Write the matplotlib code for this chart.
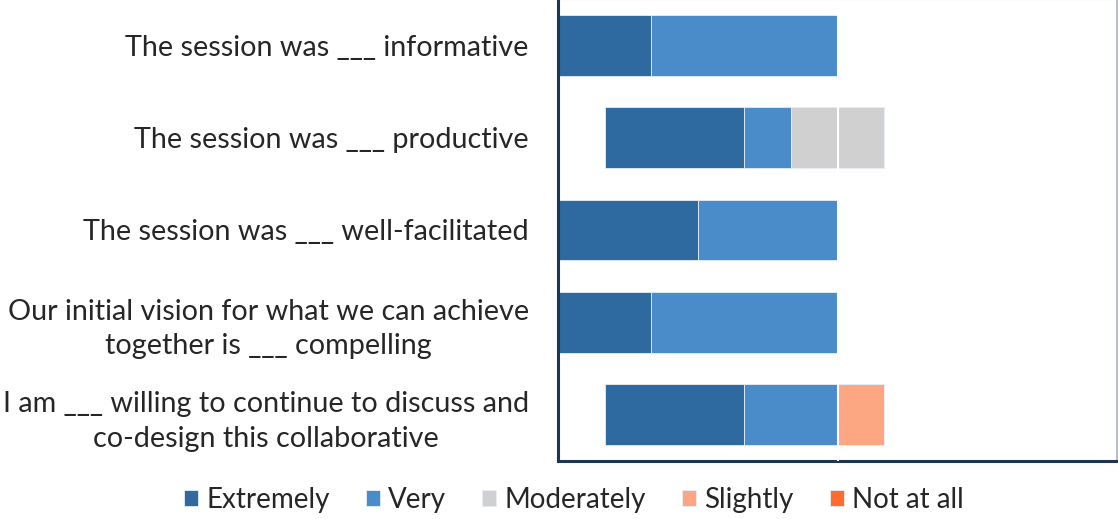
import numpy as np
import matplotlib.pyplot as plt

plt.rcParams['font.family'] = ['Lato', 'DejaVu Sans']

questions = [
    "The session was ___ informative",
    "The session was ___ productive",
    "The session was ___ well-facilitated",
    "Our initial vision for what we can achieve\ntogether is ___ compelling",
    "I am ___ willing to continue to discuss and\nco-design this collaborative",
]
levels = ["Extremely", "Very", "Moderately", "Slightly", "Not at all"]
extremely = [2, 3, 3, 2, 3]
very = [4, 1, 3, 4, 2]
moderately = [0, 2, 0, 0, 0]
slightly = [0, 0, 0, 0, 1]
not_at_all = [0, 0, 0, 0, 0]
colors = ["#2E6A9F", "#4A8CC9", "#D0D0D0", "#FCA682", "#FF6B2C"]

counts = np.array([extremely, very, moderately, slightly, not_at_all], dtype=float)
start = -(counts[0] + counts[1] + counts[2] / 2)

fig = plt.figure(figsize=(11.18, 5.19), dpi=100)
ax = fig.add_axes([558 / 1118, 1 - 461 / 519, 559 / 1118, 462 / 519])

y = np.arange(len(questions))
left = start.copy()
for i, lvl in enumerate(levels):
    ax.barh(y, counts[i], left=left, height=0.66, color=colors[i],
            edgecolor="#E8EEF6", linewidth=0.6, label=lvl)
    left = left + counts[i]

ax.axvline(0, color="white", linewidth=1.5, zorder=3)
ax.set_xlim(-6, 6)
ax.set_ylim(len(questions) - 0.5, -0.5)
ax.set_xticks([])
ax.set_yticks(y)
ax.set_yticklabels(questions, fontsize=20.7, color="#262626",
                   multialignment="center", linespacing=1.4)
ax.tick_params(axis="y", length=0, pad=21)

for s in ["left", "bottom"]:
    ax.spines[s].set_color("#1B3553")
    ax.spines[s].set_linewidth(2.2)
for s in ["top", "right"]:
    ax.spines[s].set_color("#B8BEC6")
    ax.spines[s].set_linewidth(1.5)

handles, labels = ax.get_legend_handles_labels()
fig.legend(handles, labels, loc="center", bbox_to_anchor=(574 / 1118, 1 - 500 / 519),
           ncol=5, frameon=False, fontsize=20, handlelength=0.5, handleheight=0.5,
           handletextpad=0.3, columnspacing=1.3, labelcolor="#262626")

plt.savefig("out.png", dpi=100)
